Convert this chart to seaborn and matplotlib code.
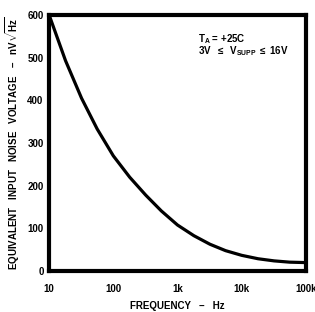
import matplotlib
matplotlib.use('Agg')
import matplotlib.pyplot as plt
import pandas as pd
import seaborn as sns

# Noise voltage curve
freq_hz = [10, 18, 32, 56, 100, 180, 320, 560, 1000, 1800, 3200, 5600,
           10000, 18000, 32000, 56000, 100000]
noise_nv = [600, 493, 405, 333, 270, 220, 178, 141, 108, 83, 63, 48,
            37, 29, 24, 21, 20]

x_ticks = [10, 100, 1000, 10000, 100000]
x_tick_labels = ['10', '100', '1k', '10k', '100k']
y_ticks = [0, 100, 200, 300, 400, 500, 600]

df = pd.DataFrame({'freq': freq_hz, 'noise': noise_nv})

sns.set_theme(style='white')
plt.rcParams['font.family'] = ['Liberation Sans', 'DejaVu Sans']
plt.rcParams['font.weight'] = 'bold'
plt.rcParams['axes.labelweight'] = 'bold'
plt.rcParams['mathtext.fontset'] = 'custom'
plt.rcParams['mathtext.rm'] = 'Liberation Sans:bold'
plt.rcParams['mathtext.it'] = 'Liberation Sans:bold'
plt.rcParams['mathtext.bf'] = 'Liberation Sans:bold'

fig = plt.figure(figsize=(3.15, 3.12), dpi=100)
ax = fig.add_axes([0.156, 0.131, 0.815, 0.821])

sns.lineplot(data=df, x='freq', y='noise', ax=ax, color='black', linewidth=2.3)
ax.lines[0].set_solid_joinstyle('round')

ax.set_xscale('log')
ax.set_xlim(10, 100000)
ax.set_ylim(0, 600)
ax.set_xticks(x_ticks)
ax.set_xticklabels(x_tick_labels)
ax.set_yticks(y_ticks)
ax.minorticks_off()
ax.tick_params(axis='both', length=0, labelsize=7, colors='black')
ax.tick_params(axis='x', pad=9)
ax.tick_params(axis='y', pad=4)
for lbl in ax.get_xticklabels() + ax.get_yticklabels():
    lbl.set_fontweight('bold')

for s in ax.spines.values():
    s.set_linewidth(3)
    s.set_color('black')

ax.set_xlabel('FREQUENCY   \u2013   Hz', fontsize=7, labelpad=5, color='black')
ax.set_ylabel('EQUIVALENT   INPUT   NOISE   VOLTAGE   \u2013   nV' + r'$\sqrt{Hz}$',
              fontsize=7, labelpad=4, color='black')

ax.text(0.58, 0.895, r'T$_\mathregular{A}$ = +25C', transform=ax.transAxes,
        fontsize=7, color='black')
ax.text(0.58, 0.845, r'3V  $\leq$  V$_\mathregular{SUPP}$ $\leq$ 16V', transform=ax.transAxes,
        fontsize=7, color='black')

fig.savefig('out.png', dpi=100)
